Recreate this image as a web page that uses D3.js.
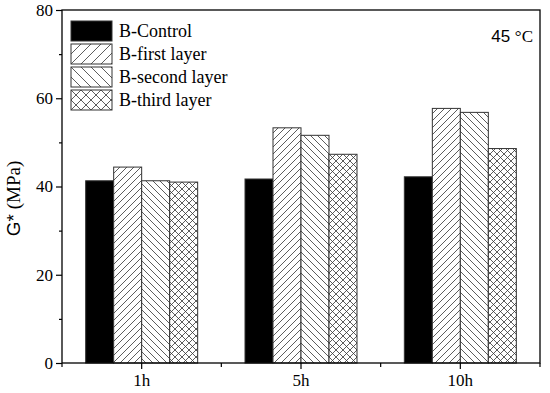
<!DOCTYPE html>
<html><head><meta charset="utf-8">
<script src="https://cdn.jsdelivr.net/npm/d3@7"></script>
<style>body{margin:0;background:#fff}
.serif{font-family:"Liberation Serif","Times New Roman","DejaVu Serif",serif}
.sans{font-family:"Liberation Sans",Arial,"DejaVu Sans",sans-serif}
</style>
</head><body>
<svg id="c" width="550" height="393"></svg>
<script>
const categories = ["1h", "5h", "10h"];
const seriesNames = ["B-Control", "B-first layer", "B-second layer", "B-third layer"];
const control = [41.3, 41.7, 42.2];
const firstLayer = [44.4, 53.3, 57.7];
const secondLayer = [41.3, 51.6, 56.8];
const thirdLayer = [41.0, 47.3, 48.6];
const yTicks = [0, 20, 40, 60, 80];
const yMinorTicks = [10, 30, 50, 70];
const seriesValues = [control, firstLayer, secondLayer, thirdLayer];

const svg = d3.select("#c");
const L = 62, R = 540, T = 10, B = 363;
const x = d3.scaleBand().domain(categories).range([L, R]).padding(0);
const y = d3.scaleLinear().domain([0, 80]).range([B, T]);
const inner = d3.scaleBand().domain(d3.range(4)).range([0, 112]);

const defs = svg.append("defs");
function mkPatterns(prefix, s) {
  const a = `M0,${s} L${s},0 M${-s/2},${s/2} L${s/2},${-s/2} M${s/2},${s*1.5} L${s*1.5},${s/2}`;
  const b = `M0,0 L${s},${s} M${-s/2},${s/2} L${s/2},${s*1.5} M${s/2},${-s/2} L${s*1.5},${s/2}`;
  [a, b, a + " " + b].forEach((d, i) => {
    const p = defs.append("pattern").attr("id", prefix + (i + 1)).attr("patternUnits", "userSpaceOnUse")
      .attr("width", s).attr("height", s);
    p.append("rect").attr("width", s).attr("height", s).attr("fill", "#fff");
    p.append("path").attr("d", d).attr("stroke", "#333").attr("stroke-width", 0.8);
  });
}
mkPatterns("pb", 7);
mkPatterns("pl", 10);
const fills = p => ["#000", `url(#${p}1)`, `url(#${p}2)`, `url(#${p}3)`];

// bars
seriesValues.forEach((vals, si) => {
  svg.append("g").selectAll("rect").data(vals).join("rect")
    .attr("x", (d, i) => x(categories[i]) + x.bandwidth() / 2 - 56 + inner(si))
    .attr("y", d => y(d))
    .attr("width", inner.bandwidth())
    .attr("height", d => y(0) - y(d))
    .attr("fill", fills("pb")[si])
    .attr("stroke", "#333").attr("stroke-width", 1);
});

// frame
svg.append("rect").attr("x", L).attr("y", T).attr("width", R - L).attr("height", B - T)
  .attr("fill", "none").attr("stroke", "#000").attr("stroke-width", 1.3);

// y axis
const yAx = svg.append("g").attr("transform", `translate(${L},0)`)
  .call(d3.axisLeft(y).tickValues(yTicks).tickSize(6).tickPadding(3).tickFormat(d3.format("d")));
yAx.attr("font-family", null).attr("font-size", null);
yAx.select(".domain").remove();
yAx.selectAll("line").attr("stroke-width", 1.2);
yAx.selectAll("text").attr("class", "serif").style("font-size", "17px").attr("fill", "#000");
const yMin = svg.append("g").attr("transform", `translate(${L},0)`)
  .call(d3.axisLeft(y).tickValues(yMinorTicks).tickSize(3).tickFormat(""));
yMin.select(".domain").remove();
yMin.selectAll("line").attr("stroke-width", 1.2);

// x axis
const xAx = svg.append("g").attr("transform", `translate(0,${B})`)
  .call(d3.axisBottom(x).tickSize(6).tickPadding(5));
xAx.attr("font-family", null).attr("font-size", null);
xAx.select(".domain").remove();
xAx.selectAll("line").attr("stroke-width", 1.2);
xAx.selectAll("text").attr("class", "serif").style("font-size", "17px").attr("fill", "#000");
const edges = categories.map(c => x(c)).concat([R]);
svg.append("g").selectAll("line").data(edges).join("line")
  .attr("x1", d => d).attr("x2", d => d).attr("y1", B).attr("y2", B + 4)
  .attr("stroke", "#000").attr("stroke-width", 1.2);

// y label
const yl = svg.append("text").attr("transform", `translate(20,${(T + B) / 2 + 12}) rotate(-90)`)
  .attr("text-anchor", "middle").style("font-size", "19px").attr("fill", "#000");
yl.append("tspan").attr("class", "sans").text("G*");
yl.append("tspan").attr("class", "serif").text(" (MPa)");

// temp label
const tl = svg.append("text").attr("x", 533).attr("y", 42).attr("text-anchor", "end")
  .style("font-size", "17px").attr("fill", "#000");
tl.append("tspan").attr("class", "sans").text("45 ");
tl.append("tspan").attr("class", "serif").text("°C");

// legend
const lg = svg.append("g").selectAll("g").data(seriesNames).join("g")
  .attr("transform", (d, i) => `translate(71,${21 + i * 23})`);
lg.append("rect").attr("width", 41).attr("height", 20)
  .attr("fill", (d, i) => fills("pl")[i]).attr("stroke", "#333").attr("stroke-width", 1);
lg.append("text").attr("x", 48).attr("y", 16).attr("class", "serif")
  .style("font-size", "18px").attr("fill", "#000").text(d => d);
</script>
</body></html>
